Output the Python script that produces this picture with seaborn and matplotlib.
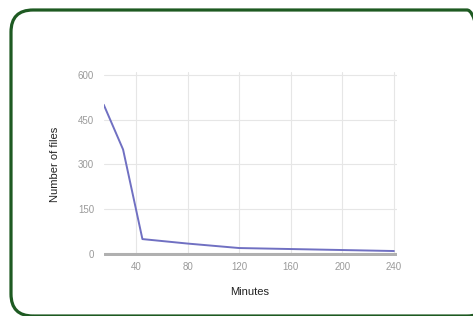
import pandas as pd
import matplotlib
matplotlib.use("Agg")
import matplotlib.pyplot as plt
import seaborn as sns
from matplotlib.patches import FancyBboxPatch
from matplotlib.transforms import IdentityTransform

# Values
minutes = [15, 30, 45, 80, 120, 180, 240]
files = [500, 350, 50, 35, 20, 15, 10]
x_ticks = [40, 80, 120, 160, 200, 240]
y_ticks = [0, 150, 300, 450, 600]

data = pd.DataFrame({"Minutes": minutes, "Number of files": files})

sns.set_style("white")
plt.rcParams["font.family"] = ["Liberation Sans", "DejaVu Sans"]

fig = plt.figure(figsize=(4.73, 3.16), dpi=100)
fig.patch.set_facecolor("white")

# Rounded dark green frame (pixel coords, cut off at right and bottom)
frame = FancyBboxPatch((11, 0), 478, 306,
                       boxstyle="round,pad=0,rounding_size=22",
                       transform=IdentityTransform(), facecolor="none",
                       edgecolor="#1e5a22", linewidth=2.3, zorder=-1)
fig.patches.append(frame)

ax = fig.add_axes([0.2193, 0.1886, 0.619, 0.584])
ax.set_facecolor("none")

sns.lineplot(data=data, x="Minutes", y="Number of files", ax=ax,
             color="#7070c2", linewidth=1.4, zorder=3)

ax.set_xlim(15, 242)
ax.set_ylim(-8, 610)
ax.set_xticks(x_ticks)
ax.set_yticks(y_ticks)

ax.grid(True, color="#e6e6e6", linewidth=0.8)
for s in ax.spines.values():
    s.set_visible(False)
ax.axhline(0, color="#b0b0b0", linewidth=2.2, zorder=2)

ax.tick_params(axis="both", length=0, labelsize=7, labelcolor="#9a9a9a")
ax.tick_params(axis="y", pad=7)
ax.tick_params(axis="x", pad=4)

ax.set_xlabel("Minutes", fontsize=8, color="#222222", labelpad=11)
ax.set_ylabel("Number of files", fontsize=8, color="#222222", labelpad=13)

fig.savefig("out.png", dpi=100)
